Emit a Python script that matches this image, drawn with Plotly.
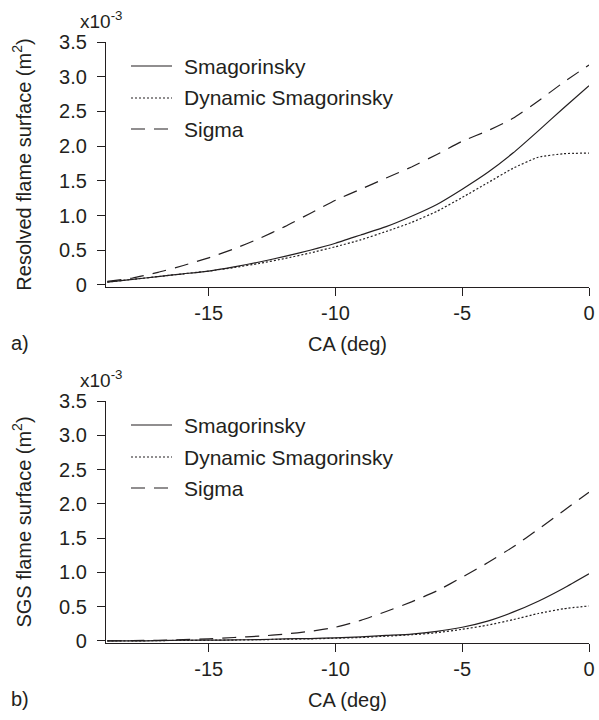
import plotly.graph_objects as go

# Crank angle (deg)
ca = [-19, -18, -17, -16, -15, -14, -13, -12, -11, -10,
      -9, -8, -7, -6, -5, -4, -3, -2, -1, 0]

# Resolved flame surface (x1e-3 m^2)
res_smag = [0.04, 0.08, 0.12, 0.16, 0.20, 0.26, 0.33, 0.41, 0.50, 0.60,
            0.72, 0.84, 0.99, 1.16, 1.38, 1.62, 1.90, 2.22, 2.55, 2.87]
res_dyn = [0.04, 0.08, 0.12, 0.16, 0.20, 0.25, 0.31, 0.38, 0.46, 0.55,
           0.65, 0.77, 0.90, 1.06, 1.26, 1.47, 1.68, 1.84, 1.89, 1.90]
res_sigma = [0.05, 0.10, 0.18, 0.28, 0.39, 0.52, 0.67, 0.84, 1.03, 1.22,
             1.38, 1.54, 1.70, 1.88, 2.07, 2.22, 2.40, 2.65, 2.92, 3.17]

# SGS flame surface (x1e-3 m^2)
sgs_smag = [0.0, 0.0, 0.005, 0.01, 0.012, 0.015, 0.02, 0.03, 0.035, 0.045,
            0.06, 0.08, 0.10, 0.14, 0.20, 0.29, 0.42, 0.58, 0.77, 0.98]
sgs_dyn = [0.0, 0.0, 0.005, 0.008, 0.01, 0.013, 0.018, 0.025, 0.03, 0.04,
           0.05, 0.07, 0.09, 0.12, 0.17, 0.23, 0.31, 0.40, 0.47, 0.51]
sgs_sigma = [0.0, 0.005, 0.01, 0.02, 0.03, 0.05, 0.07, 0.10, 0.14, 0.20,
             0.30, 0.43, 0.57, 0.73, 0.93, 1.14, 1.37, 1.63, 1.90, 2.17]

models = ["Smagorinsky", "Dynamic Smagorinsky", "Sigma"]
dashes = ["solid", "2px,2px", "14px,9px"]

y_ticks = [0, 0.5, 1.0, 1.5, 2.0, 2.5, 3.0, 3.5]
y_ticktext = ["0", "0.5", "1.0", "1.5", "2.0", "2.5", "3.0", "3.5"]
x_ticks = [-15, -10, -5, 0]
x_ticktext = ["-15", "-10", "-5", "0"]

W, H = 599, 720
INK = "#231f20"
FONT = "Liberation Sans, Arial, sans-serif"
FS = 20

fig = go.Figure()

panels = [
    dict(series=[res_smag, res_dyn, res_sigma], xa="x", ya="y",
         ytitle="Resolved flame surface (m<sup>2</sup>)",
         top=42, bottom=287, tag="a)"),
    dict(series=[sgs_smag, sgs_dyn, sgs_sigma], xa="x2", ya="y2",
         ytitle="SGS flame surface (m<sup>2</sup>)",
         top=401, bottom=643, tag="b)"),
]

annotations = []
shapes = []
left_px, right_px = 106, 589

for i, p in enumerate(panels):
    for vals, name, dash in zip(p["series"], models, dashes):
        fig.add_trace(go.Scatter(
            x=ca, y=vals, mode="lines", name=name, showlegend=False,
            line=dict(color=INK, width=1.2, dash=dash, shape="spline", smoothing=0.5),
            xaxis=p["xa"], yaxis=p["ya"]))

    sfx = "" if i == 0 else str(i + 1)
    ydom = [1 - p["bottom"] / H, 1 - p["top"] / H]
    xdom = [left_px / W, right_px / W]
    common = dict(showline=True, linecolor=INK, linewidth=1.2, ticks="outside",
                  tickcolor=INK, ticklen=8, tickwidth=1.2, showgrid=False,
                  zeroline=False, automargin=False,
                  tickfont=dict(family=FONT, size=FS, color=INK))
    fig.layout["xaxis" + sfx] = dict(
        domain=xdom, range=[-19.05, 0], anchor="y" + sfx,
        tickvals=x_ticks, ticktext=x_ticktext, ticklabelstandoff=0,
        title=dict(text="CA (deg)", font=dict(family=FONT, size=FS, color=INK), standoff=13),
        **common)
    fig.layout["yaxis" + sfx] = dict(
        domain=ydom, range=[-0.03, 3.5], anchor="x" + sfx,
        tickvals=y_ticks, ticktext=y_ticktext, ticklabelstandoff=6,
        title=dict(text=p["ytitle"], font=dict(family=FONT, size=FS, color=INK), standoff=22),
        **common)

    # exponent label above the y axis
    annotations.append(dict(
        text="x10<sup>-3</sup>", xref="paper", yref="paper",
        x=101 / W, y=1 - (p["top"] - 22) / H, xanchor="center", yanchor="middle",
        showarrow=False, font=dict(family=FONT, size=FS - 1, color=INK)))
    # panel tag
    annotations.append(dict(
        text=p["tag"], xref="paper", yref="paper",
        x=9 / W, y=1 - (p["bottom"] + 56) / H, xanchor="left", yanchor="middle",
        showarrow=False, font=dict(family=FONT, size=FS, color=INK)))

    # legend block
    rows = [p["top"] + 24, p["top"] + 56, p["top"] + 87]
    for row, name, dash in zip(rows, models, dashes):
        shapes.append(dict(
            type="line", xref="paper", yref="paper",
            x0=131 / W, x1=172 / W, y0=1 - row / H, y1=1 - row / H,
            line=dict(color=INK, width=1.2, dash=dash)))
        annotations.append(dict(
            text=name, xref="paper", yref="paper",
            x=182 / W, y=1 - row / H, xanchor="left", yanchor="middle",
            showarrow=False, font=dict(family=FONT, size=FS + 1, color=INK)))

fig.update_layout(
    width=W, height=H, margin=dict(l=0, r=0, t=0, b=0),
    paper_bgcolor="white", plot_bgcolor="white",
    font=dict(family=FONT, size=FS, color=INK),
    annotations=annotations, shapes=shapes, showlegend=False)

fig.write_html("out.html")
